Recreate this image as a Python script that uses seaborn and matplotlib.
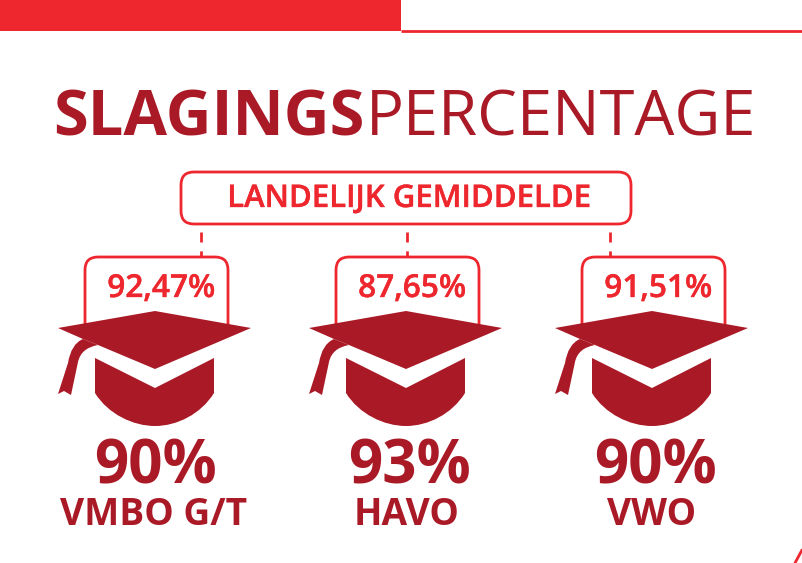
import matplotlib
matplotlib.use("Agg")
import matplotlib.pyplot as plt
import matplotlib.patheffects as pe
import seaborn as sns
from matplotlib.patches import FancyBboxPatch, PathPatch, Rectangle
from matplotlib.path import Path

levels = ["VMBO G/T", "HAVO", "VWO"]
pass_rates = ["90%", "93%", "90%"]
national_avg = ["92,47%", "87,65%", "91,51%"]

DARK = "#AA1926"
RED = "#EE272E"

sns.set_theme(style="white")
plt.rcParams["font.family"] = ["Open Sans", "DejaVu Sans"]

fig = plt.figure(figsize=(8.02, 5.63), dpi=100)
ax = fig.add_axes([0, 0, 1, 1])
ax.set_xlim(0, 802)
ax.set_ylim(563, 0)
ax.axis("off")

# no semibold cut gets picked up, so thicken the regular one a little
semi = [pe.withStroke(linewidth=0.25, foreground=RED)]


def draw_hat(cx):
    # cap
    cap = [(0, 311), (96, 328), (0, 369), (-57, 345), (-72, 339), (-97, 328), (0, 311)]
    ax.add_patch(plt.Polygon([(cx + a, b) for a, b in cap], fc=DARK, ec="none", zorder=3))
    # tassel
    verts = [(-72, 339), (-84, 344), (-87, 363), (-97, 394), (-91, 391), (-84, 395),
             (-77, 362), (-74, 348), (-57, 345), (-72, 339)]
    codes = [Path.MOVETO, Path.CURVE3, Path.CURVE3, Path.LINETO, Path.LINETO, Path.LINETO,
             Path.LINETO, Path.CURVE3, Path.CURVE3, Path.CLOSEPOLY]
    ax.add_patch(PathPatch(Path([(cx + a, b) for a, b in verts], codes), fc=DARK, ec="none", zorder=3))
    # body under the cap
    verts = [(-60, 358), (0, 388), (59, 358), (59, 393), (46, 414), (22, 426), (0, 426),
             (-22, 426), (-47, 414), (-60, 393), (-60, 358)]
    codes = [Path.MOVETO, Path.LINETO, Path.LINETO, Path.LINETO, Path.CURVE4, Path.CURVE4, Path.CURVE4,
             Path.CURVE4, Path.CURVE4, Path.CURVE4, Path.CLOSEPOLY]
    ax.add_patch(PathPatch(Path([(cx + a, b) for a, b in verts], codes), fc=DARK, ec="none", zorder=3))


def open_box(x0, x1, top, bottom, r):
    # box around the average, open at the bottom where the cap covers it
    verts = [(x0, bottom), (x0, top + r), (x0, top), (x0 + r, top), (x1 - r, top), (x1, top), (x1, top + r), (x1, bottom)]
    codes = [Path.MOVETO, Path.LINETO, Path.CURVE3, Path.CURVE3, Path.LINETO, Path.CURVE3, Path.CURVE3, Path.LINETO]
    ax.add_patch(PathPatch(Path(verts, codes), fc="none", ec=RED, lw=2, zorder=2))


# top band
ax.add_patch(Rectangle((0, 0), 401, 31, fc=RED, ec="none"))
ax.plot([401, 802], [31, 31], color=RED, lw=2, solid_capstyle="butt")
ax.plot([795, 802], [563, 550], color=RED, lw=2)

# title, two weights side by side
t1 = ax.text(53.5, 135, "SLAGINGS", fontsize=45.5, fontweight="bold", color=DARK, va="baseline")
fig.canvas.draw()
x1 = t1.get_window_extent().x1
ax.text(x1 + 1.5, 135, "PERCENTAGE", fontsize=45.5, color=DARK, va="baseline")

ax.add_patch(FancyBboxPatch((194, 185), 424, 26, boxstyle="round,pad=13,rounding_size=13",
                            fc="white", ec=RED, lw=2, zorder=1))
ax.text(409, 199, "LANDELIJK GEMIDDELDE", fontsize=22.4, fontweight="semibold", color=RED,
        ha="center", va="center", path_effects=semi)

hat_x = [155, 406, 652]
pct_x = [156, 410, 656]
name_x = [153.5, 407, 651.5]
box_left = [85, 336, 582]
dash_x = [201, 407, 610]
for i, name in enumerate(levels):
    ax.plot([dash_x[i], dash_x[i]], [232, 257], color=RED, lw=2, dashes=(3.6, 3.2))
    open_box(box_left[i], box_left[i] + 143, 257, 327, 13)
    ax.text(box_left[i] + 130, 297, national_avg[i], fontsize=22.8, fontweight="semibold", color=RED,
            ha="right", va="baseline", path_effects=semi)
    draw_hat(hat_x[i])
    ax.text(pct_x[i], 483, pass_rates[i], fontsize=43.3, fontweight="bold", color=DARK, ha="center", va="baseline")
    ax.text(name_x[i], 525, name, fontsize=26.7, fontweight="bold", color=DARK, ha="center", va="baseline")

fig.savefig("out.png", dpi=100)
